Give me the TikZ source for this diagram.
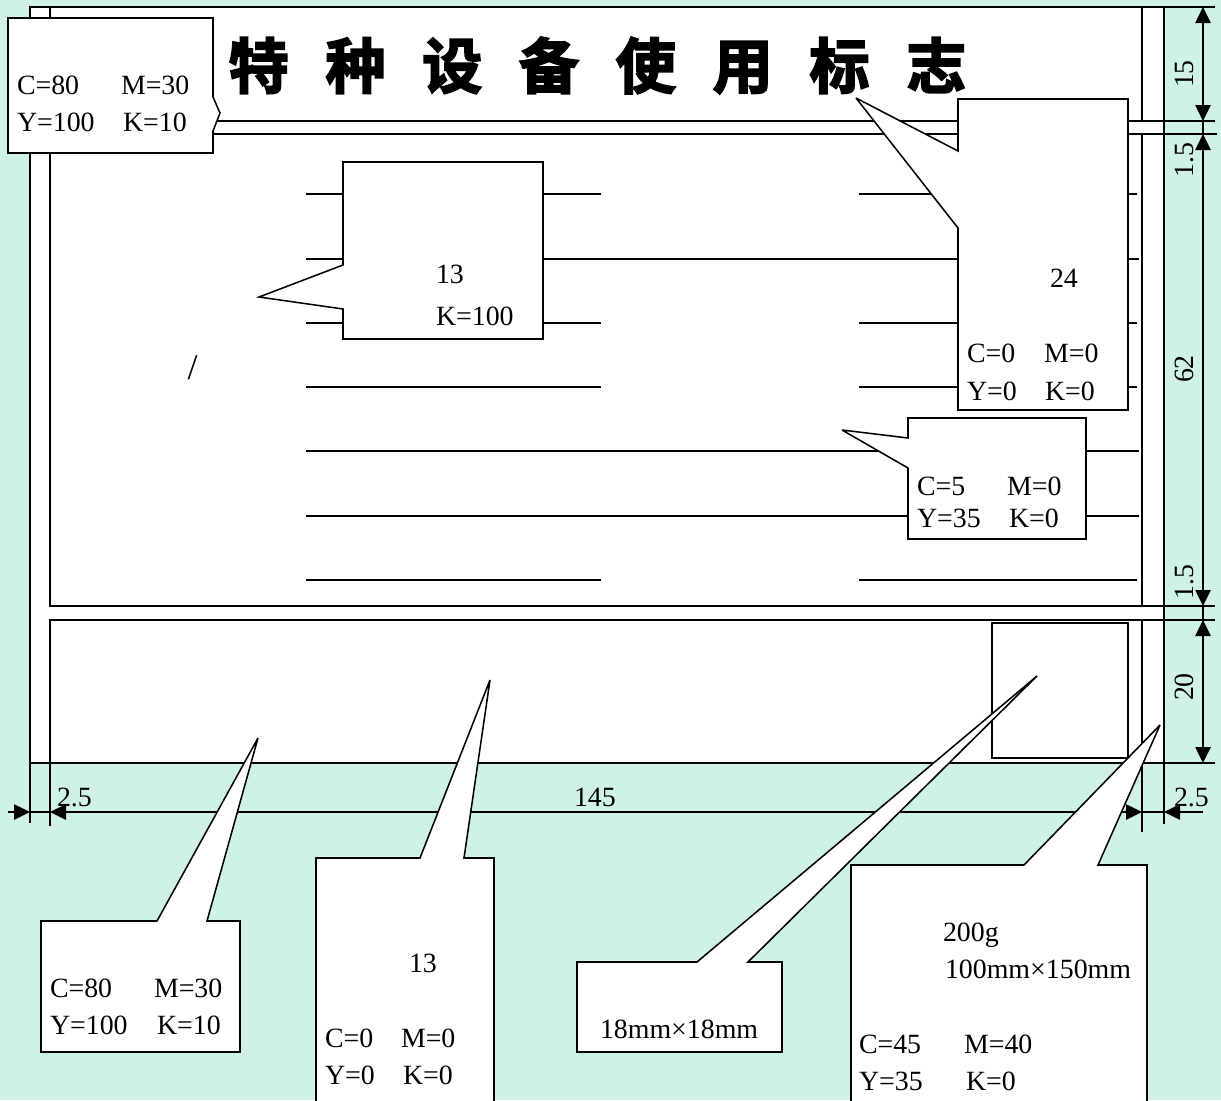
\documentclass[tikz,border=0pt]{standalone}
\usepackage{fontspec}
\setmainfont{Liberation Serif}
\newfontfamily\cjk[FakeBold=3.2]{Noto Sans CJK SC Bold}
\usetikzlibrary{arrows.meta}
\definecolor{bgmint}{HTML}{D0F1E7}
\tikzset{
  ln/.style={draw=black,line width=1.15pt},
  thin ln/.style={draw=black,line width=1pt},
  dim/.style={draw=black,line width=1.1pt},
  tips/.style={{Triangle[length=12pt,width=11.5pt]}-{Triangle[length=12pt,width=11.5pt]}},
  tipe/.style={-{Triangle[length=12pt,width=11.5pt]}},
  callout/.style={draw=black,fill=white,line width=1.15pt,line join=miter,miter limit=4},
  lab/.style={anchor=base west,inner sep=0pt,outer sep=0pt,font=\fontsize{20.9pt}{24pt}\selectfont},
  vlab/.style={anchor=center,inner sep=0pt,outer sep=0pt,rotate=90,font=\fontsize{20.9pt}{24pt}\selectfont},
}
\newcommand{\tg}{\hskip 27.6pt}
\begin{document}
\begin{tikzpicture}[x=0.75pt,y=-0.75pt]
\useasboundingbox (0,0) rectangle (1221,1100);
\clip (0,0) rectangle (1221,1100);
\fill[bgmint] (0,0) rectangle (1221,1100);
\fill[white] (30,7) rectangle (1164,763);

% coordinates of the frame
\coordinate (oTL) at (30,7);
\coordinate (oBR) at (1164,763);
% frame
\draw[ln] (oTL) rectangle (oBR);
\draw[thin ln] (50,7) -- (50,121) -- (1142,121) -- (1142,7);
\draw[thin ln] (50,134) rectangle (1142,606);
\draw[thin ln] (50,620) rectangle (1142,763);
% extension lines
\draw[dim] (1164,7) -- (1215,7);
\draw[dim] (1142,121) -- (1215,121);
\draw[dim] (1142,134) -- (1217,134);
\draw[dim] (1142,606) -- (1215,606);
\draw[dim] (1142,620) -- (1215,620);
\draw[dim] (1164,763) -- (1215,763);
\draw[dim] (30,763) -- (30,823);
\draw[dim] (50,763) -- (50,826);
\draw[dim] (1142,763) -- (1142,832);
\draw[dim] (1164,763) -- (1164,824);

% ruled rows
\foreach \y in {194,323,387,580}{
  \draw[ln] (306,\y) -- (601,\y);
  \draw[ln] (859,\y) -- (1137,\y);
}
\foreach \y in {259,451,516}{
  \draw[ln] (306,\y) -- (1139,\y);
}

% dimension lines
\coordinate (dv0) at (1203,7);
\coordinate (dv1) at (1203,121);
\coordinate (dv2) at (1203,134);
\coordinate (dv3) at (1203,606);
\coordinate (dv4) at (1203,620);
\coordinate (dv5) at (1203,763);
\draw[dim,tips] (dv0) -- (dv1);
\draw[dim] (dv1) -- (dv2);
\draw[dim,tips] (dv2) -- (dv3);
\draw[dim] (dv3) -- (dv4);
\draw[dim,tips] (dv4) -- (dv5);
\coordinate (dh0) at (8,812);
\coordinate (dh1) at (30,812);
\coordinate (dh2) at (50,812);
\coordinate (dh3) at (1142,812);
\coordinate (dh4) at (1164,812);
\coordinate (dh5) at (1203,812);
\draw[dim,tipe] (dh0) -- (dh1);
\draw[dim] (dh1) -- (dh2);
\draw[dim,tips] (dh2) -- (dh3);
\draw[dim] (dh3) -- (dh4);
\draw[dim,tipe] (dh5) -- (dh4);

% title
\node[anchor=center,inner sep=0pt] (title) at (597.5,65.5) {\cjk\fontsize{45pt}{50pt}\selectfont 特\tg 种\tg 设\tg 备\tg 使\tg 用\tg 标\tg 志};

% small square
\draw[thin ln,fill=white] (992,623) rectangle (1128,758);

% callouts
\draw[callout] (8,18) -- (213,18) -- (213,97) -- (220,113) -- (213,131) -- (213,153) -- (8,153) -- cycle;
\draw[callout] (343,162) -- (543,162) -- (543,339) -- (343,339) -- (343,309) -- (259,297) -- (343,265) -- cycle;
\draw[callout] (958,99) -- (1128,99) -- (1128,410) -- (958,410) -- (958,228) -- (856,98) -- (958,151) -- cycle;
\draw[callout] (908,418) -- (1086,418) -- (1086,539) -- (908,539) -- (908,468) -- (842,430) -- (908,438) -- cycle;
\draw[callout] (41,921) -- (157,921) -- (258,738) -- (207,921) -- (240,921) -- (240,1052) -- (41,1052) -- cycle;
\draw[callout] (316,858) -- (420,858) -- (490,680) -- (464,858) -- (494,858) -- (494,1112) -- (316,1112) -- cycle;
\draw[callout] (577,962) -- (697,962) -- (1037,676) -- (748,962) -- (782,962) -- (782,1052) -- (577,1052) -- cycle;
\draw[callout] (851,865) -- (1024,865) -- (1160,725) -- (1098,865) -- (1147,865) -- (1147,1112) -- (851,1112) -- cycle;

% slash
\node[lab,font=\fontsize{27pt}{30pt}\selectfont] (slash) at (187.5,379.5) {/};

% callout texts
\node[lab] (a1) at (17,94) {C=80};
\node[lab] (a2) at (121,94) {M=30};
\node[lab] (a3) at (17,131) {Y=100};
\node[lab] (a4) at (123,131) {K=10};
\node[lab] (b1) at (436,283) {13};
\node[lab] (b2) at (436,325) {K=100};
\node[lab] (c1) at (1050,287) {24};
\node[lab] (c2) at (967,362) {C=0};
\node[lab] (c3) at (1044,362) {M=0};
\node[lab] (c4) at (967,400) {Y=0};
\node[lab] (c5) at (1045,400) {K=0};
\node[lab] (d1) at (917,495) {C=5};
\node[lab] (d2) at (1007,495) {M=0};
\node[lab] (d3) at (917,527) {Y=35};
\node[lab] (d4) at (1009,527) {K=0};
\node[lab] (e1) at (50,997) {C=80};
\node[lab] (e2) at (154,997) {M=30};
\node[lab] (e3) at (50,1034) {Y=100};
\node[lab] (e4) at (157,1034) {K=10};
\node[lab] (f1) at (409,972) {13};
\node[lab] (f2) at (325,1047) {C=0};
\node[lab] (f3) at (401,1047) {M=0};
\node[lab] (f4) at (325,1084) {Y=0};
\node[lab] (f5) at (403,1084) {K=0};
\node[lab] (g1) at (600,1038) {18mm×18mm};
\node[lab] (h1) at (943,941) {200g};
\node[lab] (h2) at (945,978) {100mm×150mm};
\node[lab] (h3) at (859,1053) {C=45};
\node[lab] (h4) at (964,1053) {M=40};
\node[lab] (h5) at (859,1090) {Y=35};
\node[lab] (h6) at (966,1090) {K=0};

% dimension labels
\node[lab] (m1) at (57,806) {2.5};
\node[lab] (m2) at (574,806) {145};
\node[lab] (m3) at (1174,806) {2.5};
\node[vlab] (n1) at (1184,74) {15};
\node[vlab] (n2) at (1184,160) {1.5};
\node[vlab] (n3) at (1184,369) {62};
\node[vlab] (n4) at (1184,582) {1.5};
\node[vlab] (n5) at (1184,687) {20};
\end{tikzpicture}
\end{document}
